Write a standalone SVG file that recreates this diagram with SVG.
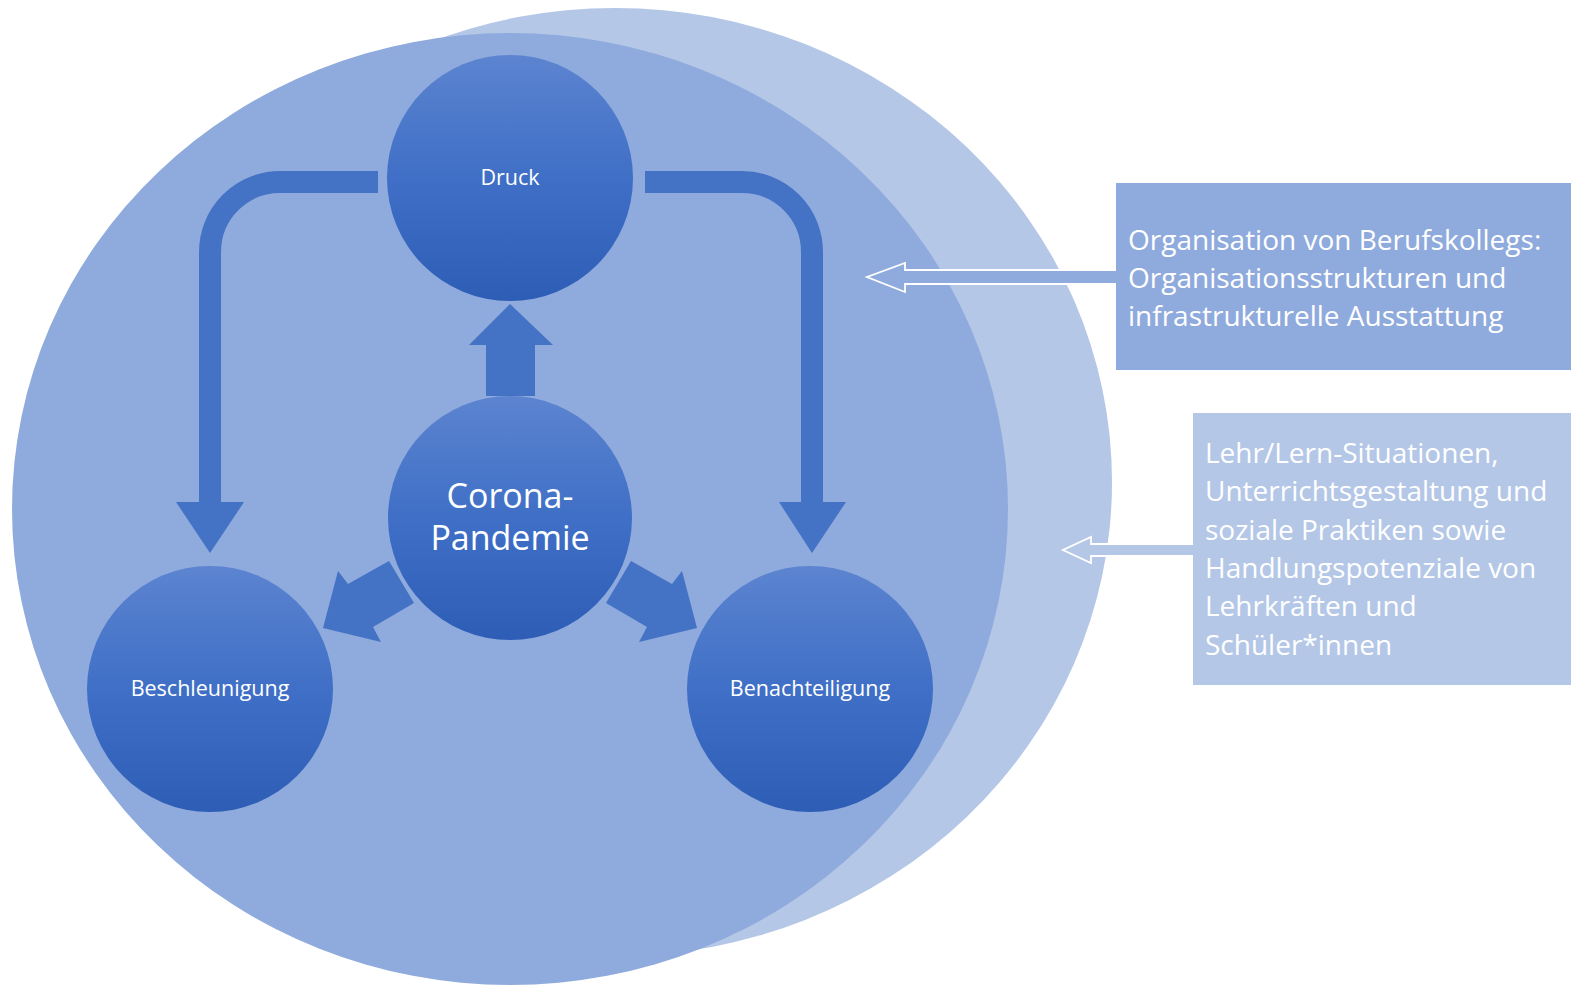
<svg xmlns="http://www.w3.org/2000/svg" width="1571" height="986" viewBox="0 0 1571 986">
<defs>
<linearGradient id="ng" x1="0" y1="0" x2="0" y2="1">
<stop offset="0" stop-color="#5C84D0"/>
<stop offset="0.5" stop-color="#3F6FC6"/>
<stop offset="1" stop-color="#2E5DB6"/>
</linearGradient>
<style>
.node{fill:url(#ng);}
.arr{fill:#4472C4;}
.bend{fill:none;stroke:#4472C4;stroke-width:22;}
.lbl{font-family:"Open Sans","Liberation Sans",sans-serif;fill:#FFFFFF;text-anchor:middle;}
.box{font-family:"Open Sans","Liberation Sans",sans-serif;fill:#FFFFFF;font-size:28px;}
</style>
</defs>
<rect width="1571" height="986" fill="#FFFFFF"/>
<ellipse cx="615" cy="482" rx="497" ry="474" fill="#B4C7E7"/>
<ellipse cx="510" cy="509" rx="498" ry="476" fill="#8FAADC"/>

<g id="connectors">
<path class="bend" d="M378,182 H280 A70,70 0 0 0 210,252 V503"/>
<polygon class="arr" points="176,502 244,502 210,553"/>
<path class="bend" d="M645,182 H742 A70,70 0 0 1 812,252 V503"/>
<polygon class="arr" points="779,502 846,502 812,553"/>
<polygon class="arr" points="486,396 535,396 535,345 553,345 510,304 469,345 486,345"/>
<polygon class="arr" points="389,561 414,603 373,627 381,642 323,628 338,571 348,584"/>
<polygon class="arr" points="631,561 606,603 647,627 639,642 697,628 682,571 672,584"/>
<polygon points="1117,270 905,270 905,263 867,277 905,292 905,284 1117,284" fill="#8FAADC" stroke="#FFFFFF" stroke-width="1.8"/>
<polygon points="1194,544 1091,544 1091,537 1063,550 1091,563 1091,556 1194,556" fill="#B4C7E7" stroke="#FFFFFF" stroke-width="1.8"/>
</g>

<g id="druck">
<circle class="node" cx="510" cy="178" r="123"/>
<text class="lbl" x="510" y="185" font-size="21.5">Druck</text>
</g>
<g id="corona">
<circle class="node" cx="510" cy="518" r="122"/>
<text class="lbl" x="510" y="508" font-size="34">Corona-</text>
<text class="lbl" x="510" y="550" font-size="34">Pandemie</text>
</g>
<g id="beschleunigung">
<circle class="node" cx="210" cy="689" r="123"/>
<text class="lbl" x="210" y="696" font-size="21.5">Beschleunigung</text>
</g>
<g id="benachteiligung">
<circle class="node" cx="810" cy="689" r="123"/>
<text class="lbl" x="810" y="696" font-size="21.5">Benachteiligung</text>
</g>

<g id="box-organisation">
<rect x="1116" y="183" width="460" height="187" fill="#8FAADC"/>
<text class="box" x="1128" y="250">Organisation von Berufskollegs:</text>
<text class="box" x="1128" y="288">Organisationsstrukturen und</text>
<text class="box" x="1128" y="326">infrastrukturelle Ausstattung</text>
</g>
<g id="box-lehr">
<rect x="1193" y="413" width="383" height="272" fill="#B4C7E7"/>
<text class="box" x="1205" y="463">Lehr/Lern-Situationen,</text>
<text class="box" x="1205" y="501">Unterrichtsgestaltung und</text>
<text class="box" x="1205" y="540">soziale Praktiken sowie</text>
<text class="box" x="1205" y="578">Handlungspotenziale von</text>
<text class="box" x="1205" y="616">Lehrkräften und</text>
<text class="box" x="1205" y="655">Schüler*innen</text>
</g>
</svg>
